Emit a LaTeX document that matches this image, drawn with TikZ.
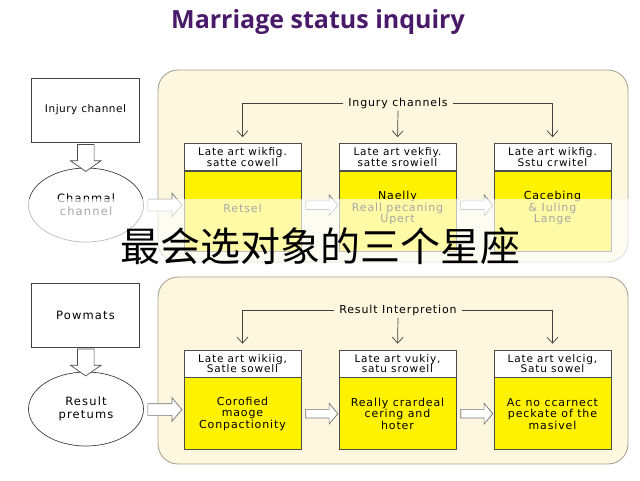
\documentclass[tikz,border=0pt]{standalone}
\usepackage{fontspec}
\setmainfont{DejaVu Sans}
\newfontfamily\titlefont{Open Sans}
\newfontfamily\spacedA[LetterSpace=8]{DejaVu Sans}
\newfontfamily\spacedB[LetterSpace=10]{DejaVu Sans}
\newfontfamily\spacedC[LetterSpace=5]{DejaVu Sans}
\newfontfamily\cjk{Noto Sans CJK SC}
\usetikzlibrary{shapes.geometric,shapes.arrows,arrows.meta}
\definecolor{titlepurple}{HTML}{4A1A6A}
\definecolor{panelfill}{HTML}{FCF7DE}
\definecolor{panelborder}{HTML}{A9A396}
\definecolor{boxyellow}{HTML}{FFF200}
\tikzset{
  panel/.style={draw=panelborder, fill=panelfill, rounded corners=20pt, line width=0.9pt},
  leftbox/.style={draw=black!75, fill=white, line width=0.7pt, minimum width=108pt, minimum height=64pt, inner sep=0pt, font=\spacedC\fontsize{10.5}{12}\selectfont},
  oval/.style={ellipse, draw=black!75, fill=white, line width=0.7pt, minimum width=115pt, minimum height=74pt, inner sep=0pt, align=center, font=\spacedB\fontsize{11.5}{13}\selectfont},
  hdr/.style={draw=black!70, fill=white, line width=0.7pt, minimum width=117pt, minimum height=27pt, inner sep=0pt, align=center, font=\spacedA\fontsize{10.5}{10.5}\selectfont},
  bodybox/.style={draw=black!70, fill=boxyellow, line width=0.7pt, minimum width=117pt, minimum height=72pt, inner sep=0pt},
  bodytext/.style={align=center, inner sep=0pt, font=\spacedA\fontsize{11}{11.5}\selectfont},
  grouplabel/.style={fill=panelfill, inner xsep=5pt, inner ysep=2pt, font=\spacedA\fontsize{11}{12}\selectfont},
  downarrow/.style={single arrow, draw=black!70, fill=white, line width=0.7pt, rotate=-90, minimum height=27pt, minimum width=30pt, inner xsep=0pt, inner ysep=8pt, single arrow head extend=7pt, single arrow tip angle=110, anchor=center},
  rightarrow/.style={single arrow, draw=black!55, fill=white, line width=0.7pt, minimum height=32pt, minimum width=20pt, inner xsep=0pt, inner ysep=4pt, single arrow head extend=6pt, single arrow tip angle=100, anchor=center},
  branch/.style={draw=black!75, line width=0.7pt, -{Straight Barb[length=6pt,width=11pt]}, shorten >=6pt}
}
\begin{document}
\begin{tikzpicture}[x=1pt,y=-1pt]
\useasboundingbox (0,0) rectangle (640,480);
\fill[white] (0,0) rectangle (640,480);

% title
\node (title) at (318,22) {\titlefont\fontsize{25}{28}\selectfont\bfseries\color{titlepurple}Marriage status inquiry};

% ---------------- top section ----------------
\node[leftbox] (inj) at (85.5,110) {Injury channel};
\node[oval] (chan) at (86,205) {Chanmal\\channel};
\path (inj.south) -- (chan.north) node[midway, downarrow] (ar1) {};

\draw[panel] (158,70) rectangle (628,262);
\path (chan.east) -- (181,205) node[midway, rightarrow, minimum height=34pt, minimum width=22pt, inner ysep=5.5pt] (ar2) {};

\node[hdr] (h1) at (242.5,157) {Late art wikfig.\\satte cowell};
\node[hdr] (h2) at (397.5,157) {Late art vekfiy.\\satte srowiell};
\node[hdr] (h3) at (552.5,157) {Late art wikfig.\\Sstu crwitel};
\node[bodybox, anchor=north, minimum height=80pt] (b1) at (h1.south) {};
\node[bodybox, anchor=north, minimum height=80pt] (b2) at (h2.south) {};
\node[bodybox, anchor=north, minimum height=80pt] (b3) at (h3.south) {};
\node[bodytext] (t1) at ([yshift=3pt]b1.center) {Retsel};
\node[bodytext] (t2) at ([yshift=3pt]b2.center) {Naelly\\Reall pecaning\\Upert};
\node[bodytext] (t3) at ([yshift=3pt]b3.center) {Cacebing\\\& Iuling\\Lange};
\path (b1.east) -- (b2.west) node[midway, rightarrow, yshift=6pt] (ar3) {};
\path (b2.east) -- (b3.west) node[midway, rightarrow, yshift=6pt] (ar4) {};

\node[grouplabel] (lab1) at (398,103) {Ingury channels};
\draw[branch] (lab1.west) -| (h1.north);
\draw[branch] (lab1.east) -| (h3.north);
\draw[branch] (lab1.south) -- (h2.north);

% ---------------- bottom section ----------------
\node[leftbox, font=\spacedB\fontsize{11.5}{13}\selectfont] (pow) at (85.5,315) {Powmats};
\node[oval] (res) at (86,409) {Result\\pretums};
\path (pow.south) -- (res.north) node[midway, downarrow] (ar5) {};

\draw[panel] (158,277) rectangle (628,464);
\path (res.east) -- (181,410) node[midway, rightarrow, minimum height=34pt, minimum width=22pt, inner ysep=5.5pt] (ar6) {};

\node[hdr] (g1) at (242.5,363.5) {Late art wikiig,\\Satle sowell};
\node[hdr] (g2) at (397.5,363.5) {Late art vukiy,\\satu srowell};
\node[hdr] (g3) at (552.5,363.5) {Late art velcig,\\Satu sowel};
\node[bodybox, anchor=north] (c1) at (g1.south) {};
\node[bodybox, anchor=north] (c2) at (g2.south) {};
\node[bodybox, anchor=north] (c3) at (g3.south) {};
\node[bodytext] (u1) at (c1.center) {Corofied\\maoge\\Conpactionity};
\node[bodytext] (u2) at (c2.center) {Really crardeal\\cering and\\hoter};
\node[bodytext] (u3) at (c3.center) {Ac no ccarnect\\peckate of the\\masivel};
\path (c1.east) -- (c2.west) node[midway, rightarrow] (ar7) {};
\path (c2.east) -- (c3.west) node[midway, rightarrow] (ar8) {};

\node[grouplabel] (lab2) at (398,310) {Result Interpretion};
\draw[branch] (lab2.west) -| (g1.north);
\draw[branch] (lab2.east) -| (g3.north);
\draw[branch] (lab2.south) -- (g2.north);

% ---------------- overlay band ----------------
\fill[white, opacity=0.65] (0,199) rectangle (640,269);
\node (cap) at (320,246) {\cjk\fontsize{40}{44}\selectfont 最会选对象的三个星座};
\end{tikzpicture}
\end{document}
